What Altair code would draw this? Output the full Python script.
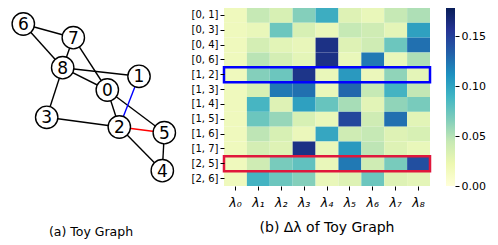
import altair as alt
import pandas as pd

# ---------------- graph data ----------------
node_ids = ["0", "1", "2", "3", "4", "5", "6", "7", "8"]
node_x = [99.3, 131.0, 111.3, 38.7, 154.3, 156.3, 15.3, 65.3, 54.7]
node_y = [82.0, 68.3, 119.0, 109.3, 162.7, 124.7, 16.0, 29.7, 59.7]

edge_src = ["6", "6", "7", "7", "8", "8", "8", "3", "0", "0", "1", "2", "2", "5"]
edge_dst = ["7", "8", "8", "0", "0", "1", "3", "2", "2", "5", "2", "5", "4", "4"]
edge_kind = ["k", "k", "k", "k", "k", "k", "k", "k", "k", "k", "b", "r", "k", "k"]

# ---------------- heatmap data ----------------
rows = ["[0, 1]", "[0, 3]", "[0, 4]", "[0, 6]", "[1, 2]", "[1, 3]",
        "[1, 4]", "[1, 5]", "[1, 6]", "[1, 7]", "[2, 5]", "[2, 6]"]
cols = ["λ₀", "λ₁", "λ₂", "λ₃", "λ₄", "λ₅", "λ₆", "λ₇", "λ₈"]
values = [
    [0.0, 0.030, 0.020, 0.060, 0.095, 0.015, 0.005, 0.030, 0.042],
    [0.0, 0.005, 0.070, 0.020, 0.005, 0.030, 0.025, 0.010, 0.105],
    [0.0, 0.022, 0.012, 0.006, 0.178, 0.015, 0.025, 0.070, 0.135],
    [0.0, 0.037, 0.022, 0.010, 0.178, 0.005, 0.130, 0.005, 0.042],
    [0.0, 0.060, 0.070, 0.175, 0.005, 0.110, 0.004, 0.055, 0.010],
    [0.0, 0.020, 0.130, 0.135, 0.005, 0.140, 0.030, 0.090, 0.032],
    [0.0, 0.088, 0.015, 0.105, 0.072, 0.045, 0.012, 0.055, 0.065],
    [0.0, 0.070, 0.052, 0.020, 0.005, 0.160, 0.025, 0.135, 0.012],
    [0.0, 0.035, 0.020, 0.004, 0.100, 0.025, 0.030, 0.015, 0.020],
    [0.0, 0.022, 0.015, 0.178, 0.005, 0.110, 0.035, 0.015, 0.005],
    [0.0, 0.025, 0.065, 0.075, 0.005, 0.130, 0.025, 0.065, 0.155],
    [0.0, 0.090, 0.070, 0.060, 0.005, 0.015, 0.070, 0.015, 0.010],
]
cmax = 0.178
cbar_ticks = [0.0, 0.05, 0.10, 0.15]
box_rows = ["[1, 2]", "[2, 5]"]
box_colors = ["#0000ff", "#e0173c"]
ylgnbu = ["#ffffd9", "#edf8b1", "#c7e9b4", "#7fcdbb", "#41b6c4",
          "#1d91c0", "#225ea8", "#253494", "#081d58"]

FONT = "DejaVu Sans"

# ---------------- graph panel ----------------
nodes = pd.DataFrame({"id": node_ids, "x": node_x, "y": node_y})
pos = {i: (x, y) for i, x, y in zip(node_ids, node_x, node_y)}
edges = pd.DataFrame({
    "x": [pos[s][0] for s in edge_src],
    "y": [pos[s][1] for s in edge_src],
    "x2": [pos[d][0] for d in edge_dst],
    "y2": [pos[d][1] for d in edge_dst],
    "kind": edge_kind,
})

GW, GH = 168, 178
xs = alt.Scale(domain=[0, GW])
ys = alt.Scale(domain=[0, GH], reverse=True)

edge_layer = alt.Chart(edges).mark_rule(strokeWidth=1.4).encode(
    x=alt.X("x:Q", scale=xs, axis=None),
    y=alt.Y("y:Q", scale=ys, axis=None),
    x2="x2:Q",
    y2="y2:Q",
    color=alt.Color("kind:N", scale=alt.Scale(domain=["k", "b", "r"],
                                              range=["black", "#0000ff", "#ff0000"]),
                    legend=None),
)
node_layer = alt.Chart(nodes).mark_point(
    shape="circle", filled=True, fill="white", stroke="black",
    strokeWidth=1.4, size=500, opacity=1
).encode(
    x=alt.X("x:Q", scale=xs, axis=None),
    y=alt.Y("y:Q", scale=ys, axis=None),
)
label_layer = alt.Chart(nodes).mark_text(
    fontSize=17, font=FONT, color="black", baseline="middle", align="center", dy=1
).encode(
    x=alt.X("x:Q", scale=xs, axis=None),
    y=alt.Y("y:Q", scale=ys, axis=None),
    text="id:N",
)
graph = alt.layer(edge_layer, node_layer, label_layer).properties(
    width=GW, height=GH,
    title=alt.TitleParams("(a) Toy Graph", orient="bottom", fontSize=12.5,
                          font=FONT, fontWeight="normal", color="black",
                          offset=40, dx=-1),
)

# ---------------- heatmap panel ----------------
recs = []
for r, rowvals in zip(rows, values):
    for c, v in zip(cols, rowvals):
        recs.append({"row": r, "col": c, "v": v})
hm = pd.DataFrame(recs)

HW, HH = 206, 178
heat = alt.Chart(hm).mark_rect(strokeWidth=0).encode(
    x=alt.X("col:N", sort=cols, scale=alt.Scale(paddingInner=0, paddingOuter=0),
            axis=alt.Axis(title=None, labelAngle=0, domain=False, tickSize=4,
                          labelPadding=6, labelFontSize=12.5, labelFontStyle="italic",
                          labelFont=FONT, labelColor="black", tickColor="black")),
    y=alt.Y("row:N", sort=rows, scale=alt.Scale(paddingInner=0, paddingOuter=0),
            axis=alt.Axis(title=None, domain=False, tickSize=4, labelPadding=2,
                          labelFontSize=10, labelFont=FONT, labelColor="black",
                          tickColor="black")),
    color=alt.Color("v:Q", scale=alt.Scale(scheme="yellowgreenblue", domain=[0, cmax]),
                    legend=None),
)
boxes = alt.Chart(pd.DataFrame({"row": box_rows, "c": box_colors})).mark_rect(
    filled=False, strokeWidth=2.5
).encode(
    y=alt.Y("row:N", sort=rows),
    x=alt.value(0),
    x2=alt.value(HW),
    stroke=alt.Stroke("c:N", scale=None),
)
heatmap = alt.layer(heat, boxes).properties(
    width=HW, height=HH,
    title=alt.TitleParams("(b) Δλ of Toy Graph", orient="bottom", fontSize=14,
                          font=FONT, fontWeight="normal", color="black", offset=12),
)

# ---------------- colorbar ----------------
n = len(ylgnbu)
grad = alt.Gradient(
    gradient="linear",
    stops=[alt.GradientStop(color=c, offset=i / (n - 1)) for i, c in enumerate(ylgnbu)],
    x1=0, x2=0, y1=1, y2=0,
)
cbar = alt.Chart(pd.DataFrame({"lo": [0.0], "hi": [cmax]})).mark_rect(
    fill=grad, strokeWidth=0
).encode(
    y=alt.Y("lo:Q", scale=alt.Scale(domain=[0, cmax], nice=False, zero=False),
            axis=alt.Axis(orient="right", title=None, values=cbar_ticks, format=".2f",
                          domain=False, grid=False, tickSize=4, labelPadding=2,
                          labelFontSize=11, labelFont=FONT, labelColor="black",
                          tickColor="black")),
    y2="hi:Q",
    x=alt.value(2),
    x2=alt.value(11),
).properties(width=11, height=HH)

chart = alt.hconcat(graph, heatmap, cbar, spacing=12).properties(
    padding={"left": 0, "top": 0, "right": 0, "bottom": 0}
).configure(font=FONT, view=alt.ViewConfig(stroke=None))

chart.save("out.html", embed_options={"renderer": "svg", "actions": False})
